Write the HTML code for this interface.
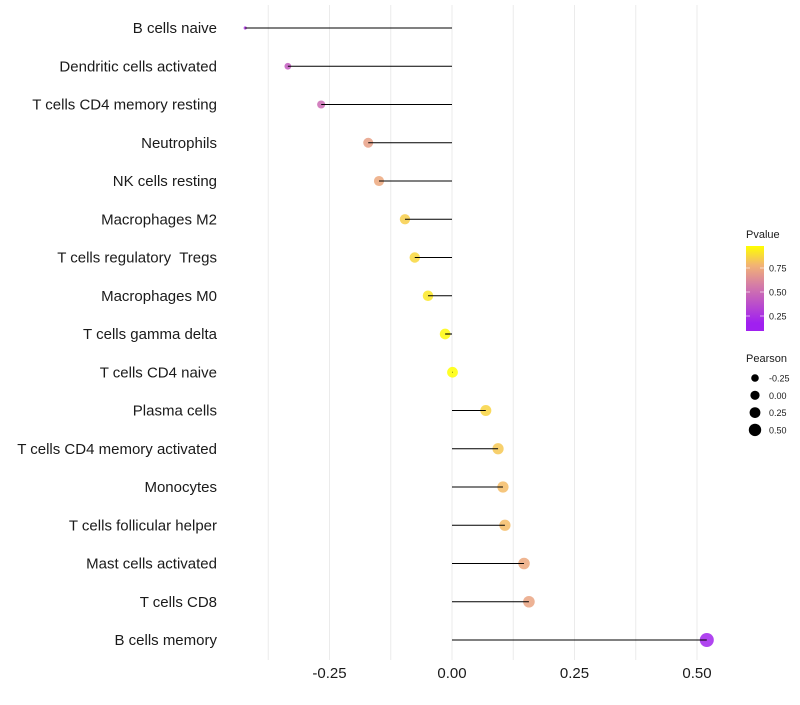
<!DOCTYPE html>
<html><head><meta charset="utf-8"><style>
body{margin:0;background:#fff;font-family:"Liberation Sans",sans-serif}
text{white-space:pre}
</style></head><body>
<svg id="c" width="800" height="700" xmlns="http://www.w3.org/2000/svg"></svg>
<script>
const categories=["B cells naive","Dendritic cells activated","T cells CD4 memory resting","Neutrophils","NK cells resting","Macrophages M2","T cells regulatory  Tregs","Macrophages M0","T cells gamma delta","T cells CD4 naive","Plasma cells","T cells CD4 memory activated","Monocytes","T cells follicular helper","Mast cells activated","T cells CD8","B cells memory"];
const pearson=[-0.422,-0.335,-0.267,-0.171,-0.149,-0.096,-0.076,-0.049,-0.014,0.001,0.069,0.094,0.104,0.108,0.147,0.157,0.52];
const pvalues=[0.1,0.32,0.4,0.66,0.7,0.84,0.87,0.92,0.98,1.0,0.86,0.82,0.78,0.78,0.7,0.68,0.02];
const xTicks=[-0.25,0,0.25,0.5];
const xTickLabels=["-0.25","0.00","0.25","0.50"];
const pTicks=[0.25,0.5,0.75];
const sizeTicks=[-0.25,0,0.25,0.5];
const sizeTickLabels=["-0.25","0.00","0.25","0.50"];

const svg=document.getElementById('c');const NS="http://www.w3.org/2000/svg";
function mk(t,a,p){const e=document.createElementNS(NS,t);for(const k in a)e.setAttribute(k,a[k]);(p||svg).appendChild(e);return e;}
const x=v=>452+v*490;
const y=i=>28+i*38.25;
const sizeKnots=[[-0.45,1.2],[-0.42,1.6],[-0.335,3.4],[-0.17,5],[0.1,5.6],[0.55,7.1]];
function r(v){for(let i=1;i<sizeKnots.length;i++){const a=sizeKnots[i-1],b=sizeKnots[i];if(v<=b[0]){const t=Math.max(0,(v-a[0])/(b[0]-a[0]));return a[1]+(b[1]-a[1])*t;}}return 7.1;}
const stops=[[0,[160,32,240]],[0.5,[214,126,165]],[0.75,[242,179,116]],[1,[255,255,0]]];
function col(p){p=Math.max(0,Math.min(1,p));for(let i=1;i<stops.length;i++){if(p<=stops[i][0]){const a=stops[i-1],b=stops[i],t=(p-a[0])/(b[0]-a[0]);return 'rgb('+a[1].map((c,j)=>Math.round(c+(b[1][j]-c)*t)).join(',')+')';}}return 'rgb(255,255,0)';}
for(let g=-0.375;g<=0.51;g+=0.125){const l=mk('line',{x1:x(g),x2:x(g),y1:5,y2:660,stroke:'#ebebeb','stroke-width':1});

}
categories.forEach((c,i)=>{
 const t=mk('text',{x:217,y:y(i)+5,'text-anchor':'end','font-size':15,fill:'#1a1a1a'});t.textContent=c;
 
 
 const pt=mk('circle',{cx:x(pearson[i]),cy:y(i),r:r(pearson[i]),fill:col(pvalues[i]),'fill-opacity':0.85});
 
 
 const ln=mk('line',{x1:x(0),x2:x(pearson[i]),y1:y(i),y2:y(i),stroke:'#000','stroke-width':1.1});
 
 
});
xTicks.forEach((v,i)=>{const t=mk('text',{x:x(v),y:678,'text-anchor':'middle','font-size':15,fill:'#1a1a1a'});t.textContent=xTickLabels[i];

});
const lt=mk('text',{x:746,y:238,'font-size':11,fill:'#1a1a1a'});lt.textContent='Pvalue';


const defs=mk('defs',{});const lg=mk('linearGradient',{id:'g',x1:0,y1:1,x2:0,y2:0},defs);
stops.forEach(s=>mk('stop',{offset:(0.094+s[0]*0.906),'stop-color':'rgb('+s[1].join(',')+')'},lg));
const pb=y=>244+(1-y)*96;
const bar=mk('rect',{x:746,y:246,width:18,height:85,fill:'url(#g)'});


pTicks.forEach(p=>{mk('line',{x1:746,x2:750,y1:pb(p),y2:pb(p),stroke:'#fff','stroke-opacity':0.6});mk('line',{x1:760,x2:764,y1:pb(p),y2:pb(p),stroke:'#fff','stroke-opacity':0.6});
const t=mk('text',{x:769,y:pb(p)+3.5,'font-size':9,fill:'#1a1a1a'});t.textContent=p.toFixed(2);

});
const st=mk('text',{x:746,y:362,'font-size':11,fill:'#1a1a1a'});st.textContent='Pearson';


sizeTicks.forEach((v,i)=>{const cy=378+i*17.3;const c=mk('circle',{cx:755,cy:cy,r:3.8+i*0.8,fill:'#000'});


const t=mk('text',{x:769,y:cy+3.5,'font-size':9,fill:'#1a1a1a'});t.textContent=sizeTickLabels[i];

});
</script>
</body></html>
